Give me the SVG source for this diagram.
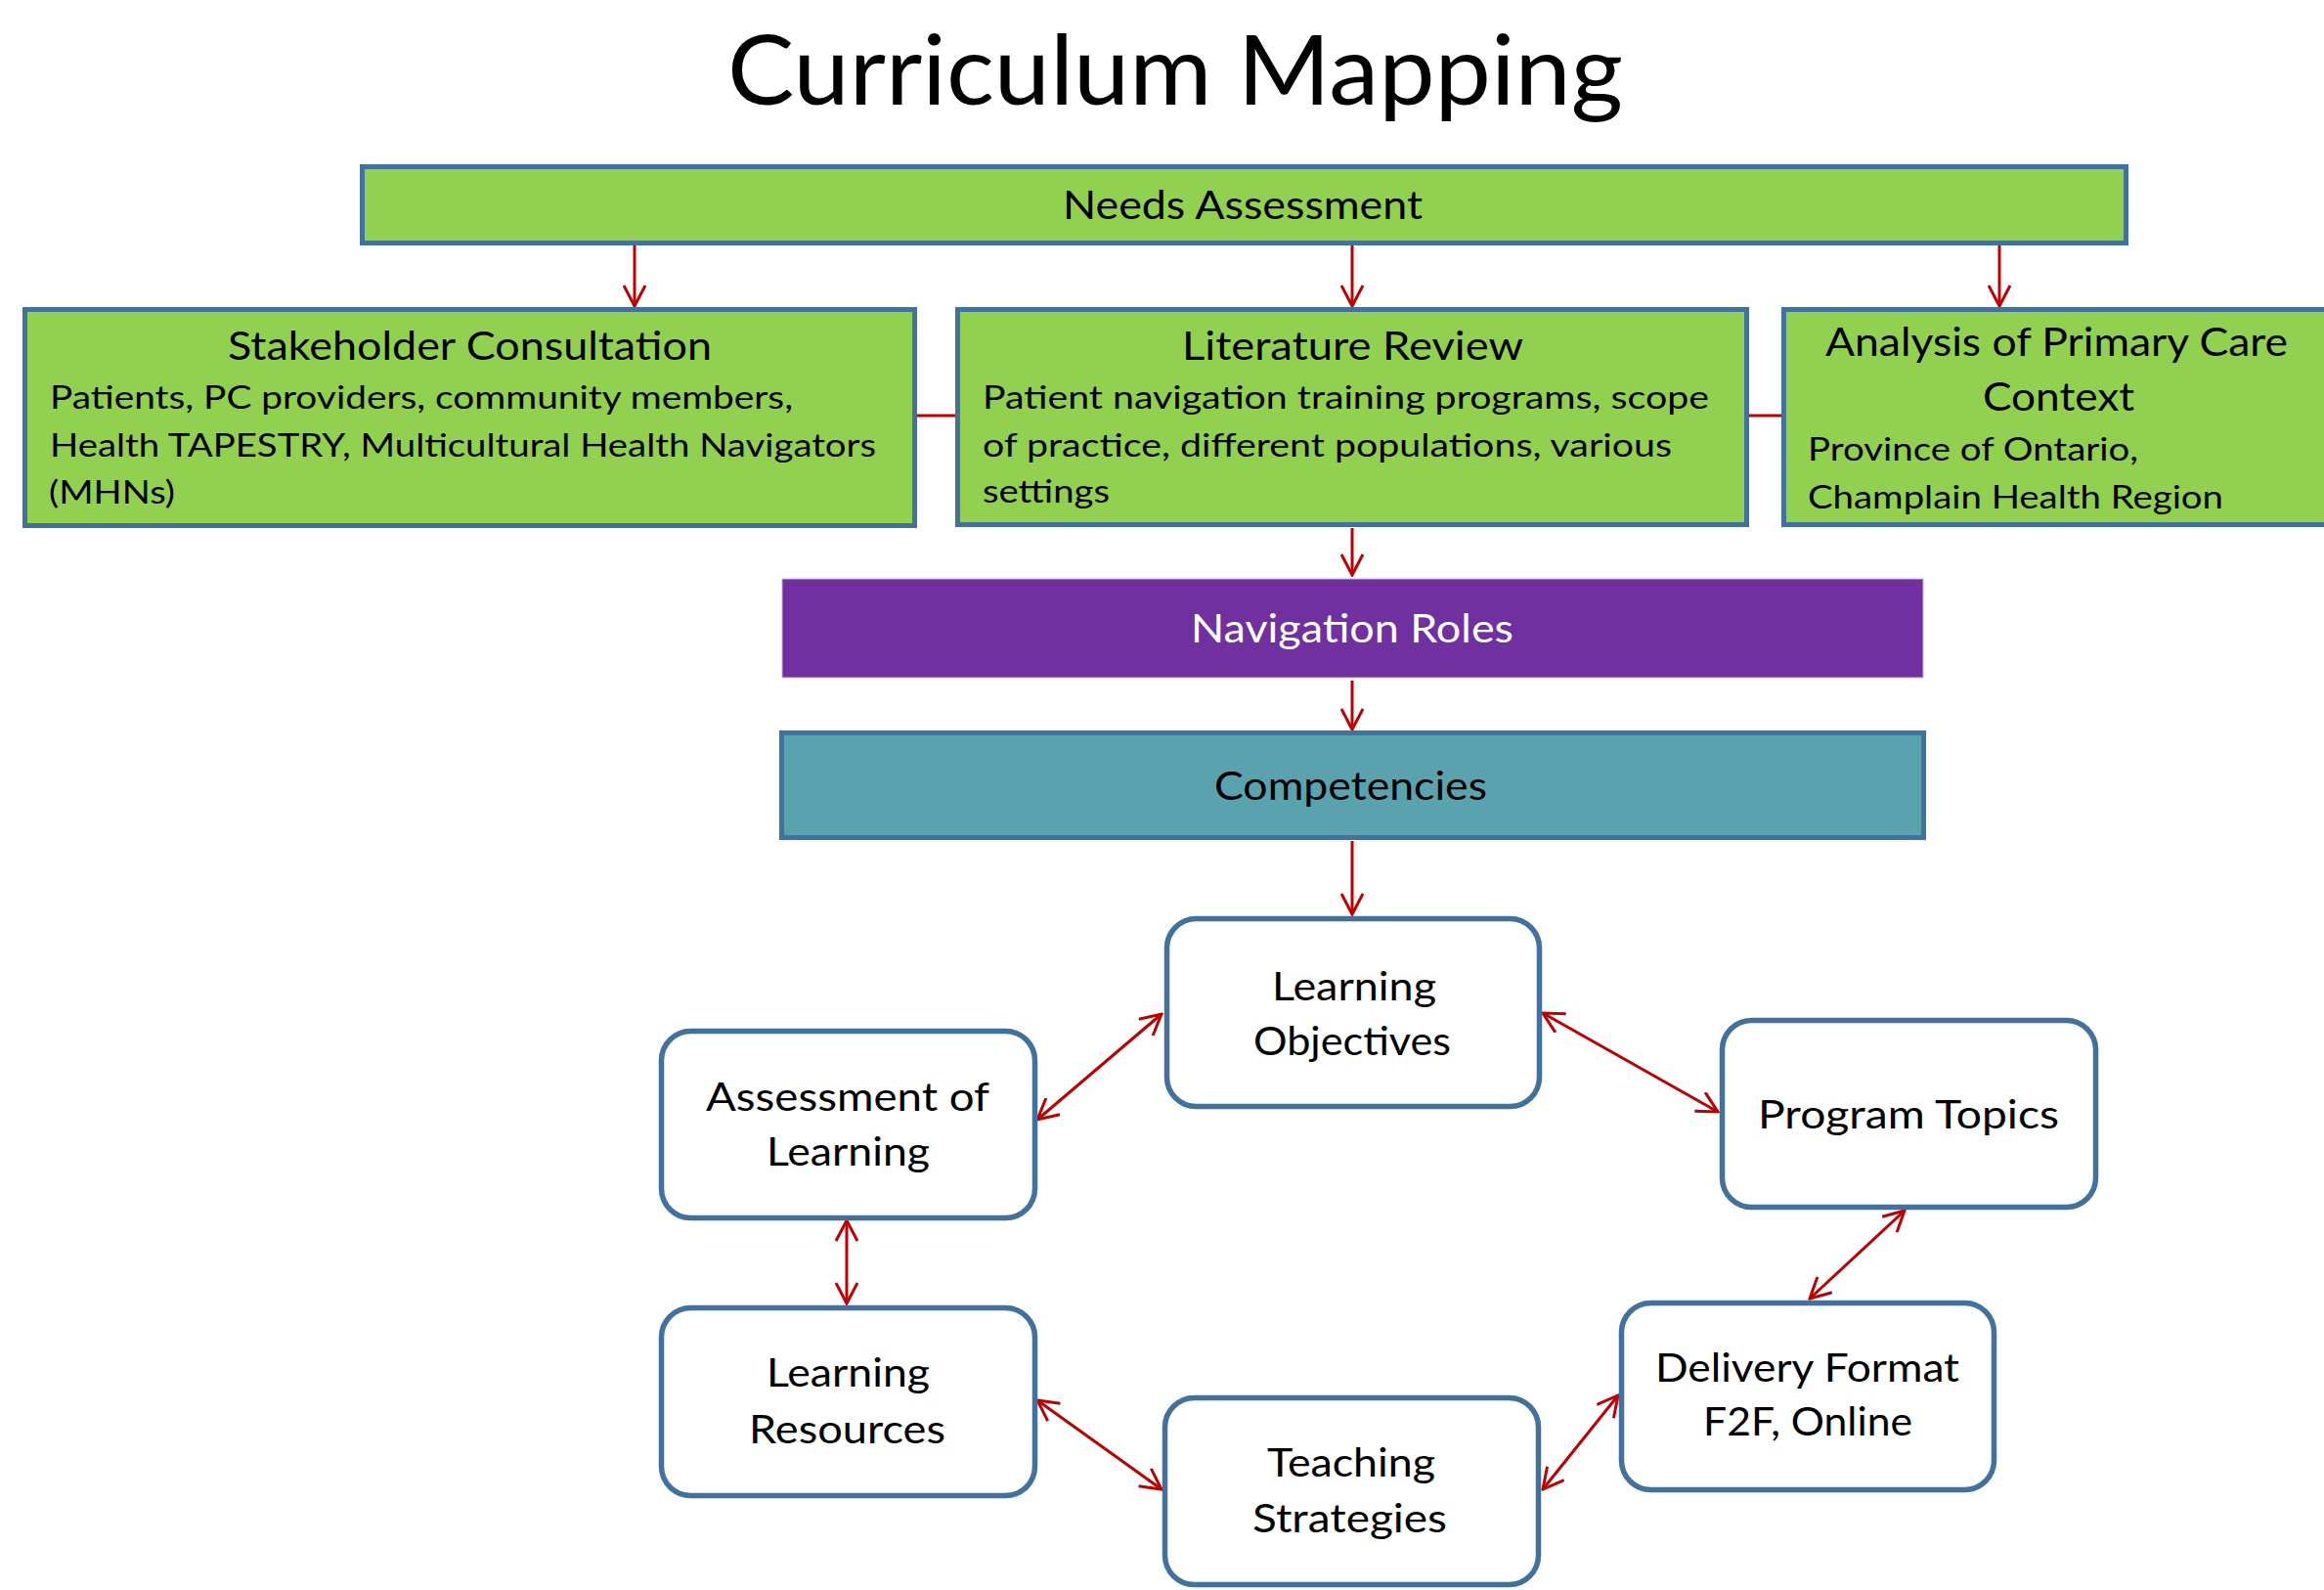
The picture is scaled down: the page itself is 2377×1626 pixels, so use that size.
<svg xmlns="http://www.w3.org/2000/svg" width="2377" height="1626" viewBox="0 0 2377 1626">
<style>
.t{font-family:Lato,"Open Sans","Liberation Sans",sans-serif;fill:#000}
.h{font-size:41px}
.b{font-size:32px}
.g{fill:#92D050;stroke:#41719C;stroke-width:5}
.r{fill:#FFFFFF;stroke:#41719C;stroke-width:5.5}
.c{fill:none;stroke:#C00000;stroke-width:3}
.d{fill:none;stroke:#C00000;stroke-width:3;marker-end:url(#ah)}
.dd{fill:none;stroke:#C00000;stroke-width:3;marker-start:url(#ah);marker-end:url(#ah)}
</style>
<defs>
<marker id="ah" viewBox="0 0 24 24" refX="22" refY="12" markerWidth="24" markerHeight="24" orient="auto-start-reverse" markerUnits="userSpaceOnUse">
<path d="M1,1 L22,12 L1,23" fill="none" stroke="#C00000" stroke-width="3"/>
</marker>
</defs>
<rect width="2377" height="1626" fill="#FFFFFF"/>
<text class="t" x="744" y="107" font-size="98" textLength="916" lengthAdjust="spacingAndGlyphs">Curriculum Mapping</text>

<g id="connectors">
<line class="d" x1="649" y1="251" x2="649" y2="313"/>
<line class="d" x1="1383" y1="251" x2="1383" y2="313"/>
<line class="d" x1="2045" y1="251" x2="2045" y2="313"/>
<line class="c" x1="938" y1="425" x2="977" y2="425" stroke-width="4"/>
<line class="c" x1="1789" y1="425" x2="1822" y2="425" stroke-width="4"/>
<line class="d" x1="1383" y1="540" x2="1383" y2="588"/>
<line class="d" x1="1383" y1="696" x2="1383" y2="746"/>
<line class="d" x1="1383" y1="860" x2="1383" y2="935"/>
<line class="dd" x1="1061" y1="1145" x2="1188" y2="1037"/>
<line class="dd" x1="1578" y1="1036" x2="1757" y2="1137"/>
<line class="dd" x1="1948" y1="1238" x2="1851" y2="1328"/>
<line class="dd" x1="1655" y1="1427" x2="1578" y2="1523"/>
<line class="dd" x1="1188" y1="1523" x2="1061" y2="1432"/>
<line class="dd" x1="866" y1="1248" x2="866" y2="1333"/>
</g>

<g id="needs-assessment">
<rect class="g" x="370.5" y="170.5" width="1804" height="78"/>
<text class="t h" x="1087" y="224" textLength="368" lengthAdjust="spacingAndGlyphs">Needs Assessment</text>
</g>

<g id="stakeholder-consultation">
<rect class="g" x="25.5" y="316.5" width="910" height="221"/>
<text class="t h" x="233" y="368" textLength="495" lengthAdjust="spacingAndGlyphs">Stakeholder Consultation</text>
<text class="t b" x="51" y="418" textLength="760" lengthAdjust="spacingAndGlyphs">Patients, PC providers, community members,</text>
<text class="t b" x="51" y="467" textLength="845" lengthAdjust="spacingAndGlyphs">Health TAPESTRY, Multicultural Health Navigators</text>
<text class="t b" x="50" y="515" textLength="129" lengthAdjust="spacingAndGlyphs">(MHNs)</text>
</g>

<g id="literature-review">
<rect class="g" x="979.5" y="316.5" width="807" height="220"/>
<text class="t h" x="1209" y="368" textLength="349" lengthAdjust="spacingAndGlyphs">Literature Review</text>
<text class="t b" x="1005" y="418" textLength="743" lengthAdjust="spacingAndGlyphs">Patient navigation training programs, scope</text>
<text class="t b" x="1005" y="467" textLength="705" lengthAdjust="spacingAndGlyphs">of practice, different populations, various</text>
<text class="t b" x="1005" y="514" textLength="130" lengthAdjust="spacingAndGlyphs">settings</text>
</g>

<g id="analysis-primary-care">
<rect class="g" x="1824.5" y="316.5" width="600" height="220"/>
<text class="t h" x="1867" y="364" textLength="473" lengthAdjust="spacingAndGlyphs">Analysis of Primary Care</text>
<text class="t h" x="2028" y="420" textLength="155" lengthAdjust="spacingAndGlyphs">Context</text>
<text class="t b" x="1849" y="471" textLength="338" lengthAdjust="spacingAndGlyphs">Province of Ontario,</text>
<text class="t b" x="1849" y="520" textLength="425" lengthAdjust="spacingAndGlyphs">Champlain Health Region</text>
</g>

<g id="navigation-roles">
<rect x="800" y="592" width="1167" height="101" fill="#7030A0" stroke="#C9B3DA" stroke-width="1"/>
<text class="t h" x="1218" y="657" style="fill:#FFFFFF" textLength="330" lengthAdjust="spacingAndGlyphs">Navigation Roles</text>
</g>

<g id="competencies">
<rect x="799.5" y="749.5" width="1168" height="107" fill="#5BA2AF" stroke="#41719C" stroke-width="5"/>
<text class="t h" x="1242" y="818" textLength="279" lengthAdjust="spacingAndGlyphs">Competencies</text>
</g>

<g id="learning-objectives">
<rect class="r" x="1193.5" y="939.5" width="381" height="192" rx="30"/>
<text class="t h" x="1301" y="1023" textLength="168" lengthAdjust="spacingAndGlyphs">Learning</text>
<text class="t h" x="1282" y="1079" textLength="202" lengthAdjust="spacingAndGlyphs">Objectives</text>
</g>

<g id="assessment-of-learning">
<rect class="r" x="676.5" y="1054.5" width="382" height="191" rx="30"/>
<text class="t h" x="722" y="1136" textLength="290" lengthAdjust="spacingAndGlyphs">Assessment of</text>
<text class="t h" x="784" y="1192" textLength="167" lengthAdjust="spacingAndGlyphs">Learning</text>
</g>

<g id="program-topics">
<rect class="r" x="1761.5" y="1043.5" width="382" height="191" rx="30"/>
<text class="t h" x="1798" y="1154" textLength="308" lengthAdjust="spacingAndGlyphs">Program Topics</text>
</g>

<g id="learning-resources">
<rect class="r" x="676.5" y="1337.5" width="382" height="192" rx="30"/>
<text class="t h" x="784" y="1418" textLength="167" lengthAdjust="spacingAndGlyphs">Learning</text>
<text class="t h" x="766" y="1476" textLength="201" lengthAdjust="spacingAndGlyphs">Resources</text>
</g>

<g id="teaching-strategies">
<rect class="r" x="1191.5" y="1429.5" width="382" height="191" rx="30"/>
<text class="t h" x="1296" y="1510" textLength="172" lengthAdjust="spacingAndGlyphs">Teaching</text>
<text class="t h" x="1281" y="1567" textLength="199" lengthAdjust="spacingAndGlyphs">Strategies</text>
</g>

<g id="delivery-format">
<rect class="r" x="1658.5" y="1332.5" width="381" height="191" rx="30"/>
<text class="t h" x="1693" y="1413" textLength="311" lengthAdjust="spacingAndGlyphs">Delivery Format</text>
<text class="t h" x="1742" y="1468" textLength="214" lengthAdjust="spacingAndGlyphs">F2F, Online</text>
</g>
</svg>
